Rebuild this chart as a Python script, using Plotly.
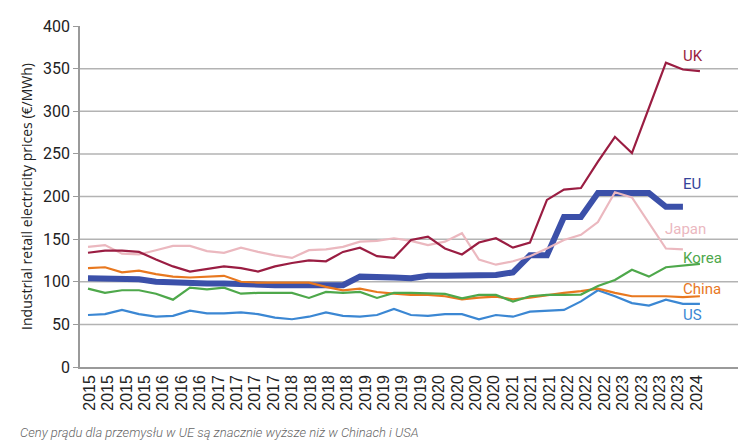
import numpy as np
import plotly.graph_objects as go

# ---- data (quarterly points, 2015 Q1 .. 2024 Q1) ----
quarter_idx = list(range(37))

uk = [134, 136.5, 136.5, 135, 126, 118, 112, 115, 118, 116, 112, 118, 122, 125, 124, 135, 140, 130, 128, 149,
      153, 139, 132, 146, 151, 140, 146, 196, 208, 210, 241, 270, 251, 304, 357, 349, 347]
eu = [104, 104, 103, 103, 100, 99, 98, 98, 98, 97, 97, 96, 96, 96, 96, 96, 106, 106, 105, 104,
      107, 107, 107, 108, 108, 111, 131, 131, 176, 176, 204, 204, 204, 204, 188, 188]
japan = [141, 143, 133, 132, 137, 142, 142, 136, 134, 140, 135, 131, 128, 137, 138, 141, 147, 148, 151, 148,
         143, 147, 157, 126, 120, 124, 130, 139, 149, 155, 170, 205, 199, 169, 139, 138]
korea = [92, 87, 90, 90, 86, 79, 93, 91, 93, 86, 87, 87, 87, 81, 88, 87, 88, 81, 87, 87,
         86.5, 85.7, 80.6, 84.5, 84.5, 76.7, 83, 84.5, 84.5, 85, 95, 102, 114, 106, 117, 119, 121]
china = [116, 117, 111, 113, 109, 106, 105, 106, 107, 100, 99, 99, 99, 99, 94, 90, 92, 88, 86, 84.5,
         84.5, 83, 79.4, 81.4, 82.5, 79.4, 81.4, 84.5, 87, 89, 92, 87, 83, 83, 83, 82, 83]
us = [61, 62, 67, 62, 59, 60, 66, 63, 63, 64, 62, 58, 56, 59, 64, 60, 59, 61, 68, 61,
      60, 62, 62, 56, 61, 59, 65, 66, 67, 77, 90, 83, 75, 72, 79, 74, 74]

tick_labels = ["2015", "2015", "2015", "2015", "2016", "2016", "2016",
               "2017", "2017", "2017", "2017", "2018", "2018", "2018", "2018",
               "2019", "2019", "2019", "2019", "2020", "2020", "2020", "2020",
               "2021", "2021", "2021", "2022", "2022", "2022",
               "2023", "2023", "2023", "2023", "2024"]
y_ticks = [0, 50, 100, 150, 200, 250, 300, 350, 400]
grid_vals = [50, 100, 150, 200, 250, 300, 350]

series = [
    ("EU", eu, "#3b50a9", 6),
    ("US", us, "#3b87d3", 2.2),
    ("China", china, "#e8781f", 2.2),
    ("Korea", korea, "#4ea84b", 2.2),
    ("Japan", japan, "#ebb8bf", 2.2),
    ("UK", uk, "#9a1d42", 2.2),
]

fig = go.Figure()
for name, vals, col, w in series:
    fig.add_trace(go.Scatter(x=quarter_idx[:len(vals)], y=vals, mode="lines", name=name,
                             line=dict(color=col, width=w), showlegend=False))

# series labels
label_pos = {"UK": (34.9, 365), "EU": (34.9, 215), "Japan": (33.8, 162), "Korea": (34.9, 128),
             "China": (34.9, 92), "US": (34.9, 61)}
label_col = {"EU": "#34449a"}
for name, vals, col, w in series:
    lx, ly = label_pos[name]
    fig.add_annotation(x=lx, y=ly, xref="x", yref="y", text=name, showarrow=False,
                       xanchor="left", yanchor="middle",
                       font=dict(family="Roboto", size=15, color=label_col.get(name, col)))

for g in grid_vals:
    fig.add_shape(type="line", xref="paper", yref="y", x0=0, x1=1, y0=g, y1=g,
                  line=dict(color="#b3b3b3", width=1.5), layer="below")

fig.add_annotation(text="Ceny prądu dla przemysłu w UE są znacznie wyższe niż w Chinach i USA",
                   xref="paper", yref="paper", x=-62 / 658, y=(367 - 432) / 341,
                   xanchor="left", yanchor="middle", showarrow=False,
                   font=dict(family="Roboto", size=13, color="#666666", style="italic", weight=300))

fig.update_layout(
    width=746, height=444,
    margin=dict(l=80, r=8, t=26, b=77),
    paper_bgcolor="white", plot_bgcolor="white",
    xaxis=dict(range=[-0.47, 38.24], tickmode="array",
               tickvals=list(np.linspace(0.1, 35.8, len(tick_labels))), ticktext=tick_labels,
               tickangle=-90, showgrid=False, zeroline=False,
               showline=True, linecolor="#9a9a9a", linewidth=1.5, ticks="",
               tickfont=dict(family="Liberation Sans", size=16, color="#222222")),
    yaxis=dict(range=[0, 400], tickmode="array", tickvals=y_ticks,
               showgrid=False, zeroline=False, showline=True, linecolor="#9a9a9a", linewidth=1.5,
               ticks="outside", ticklen=5, tickcolor="#9a9a9a",
               tickfont=dict(family="Roboto", size=16, color="#222222"),
               title=dict(text="Industrial retail electricity prices (€/MWh)", standoff=7,
                          font=dict(family="Open Sans", size=14, color="#222222"))),
)

fig.write_html("out.html")
